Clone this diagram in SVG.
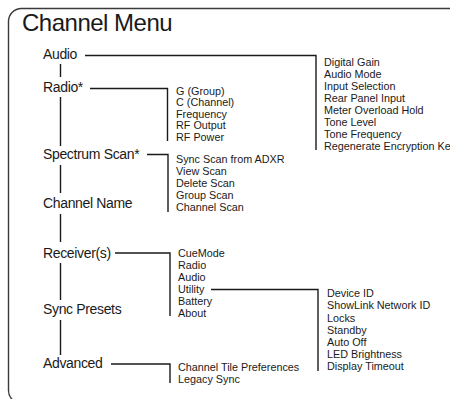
<svg xmlns="http://www.w3.org/2000/svg" width="450" height="399" viewBox="0 0 450 399">
<style>
text{font-family:"Liberation Sans",Arial,sans-serif;fill:#1a1a1a}
.title{font-size:24px;letter-spacing:-0.5px}
.main{font-size:14px;letter-spacing:-0.35px}
.sub{font-size:10.8px}
.frame{fill:none;stroke:#3a3a3a;stroke-width:1.4}
.c{fill:none;stroke:#1a1a1a;stroke-width:1.4}
</style>
<rect class="frame" x="8.5" y="8.5" width="520" height="395" rx="13"/>
<g id="title"><text class="title" x="22" y="31">Channel Menu</text></g>
<g id="connectors">
<path class="c" d="M60.5 64V77M60.5 97V146M60.5 165V193M60.5 214V242M60.5 263V300M60.5 320V355"/>
<path class="c" d="M85 55.5H316V150"/>
<path class="c" d="M90 88.5H167.5V141"/>
<path class="c" d="M147 154.5H168V212"/>
<path class="c" d="M115 253H170V316"/>
<path class="c" d="M211 289.5H318V371"/>
<path class="c" d="M111 364H170V383"/>
</g>
<g id="audio"><text class="main" x="43" y="59">Audio</text></g>
<g id="radio"><text class="main" x="43" y="92">Radio*</text></g>
<g id="spectrum-scan"><text class="main" x="43" y="159">Spectrum Scan*</text></g>
<g id="channel-name"><text class="main" x="43" y="208">Channel Name</text></g>
<g id="receivers"><text class="main" x="43" y="257.5">Receiver(s)</text></g>
<g id="sync-presets"><text class="main" x="43" y="314">Sync Presets</text></g>
<g id="advanced"><text class="main" x="43" y="368">Advanced</text></g>
<g id="audio-menu">
<text class="sub" x="324" y="66">Digital Gain</text>
<text class="sub" x="324" y="78">Audio Mode</text>
<text class="sub" x="324" y="90">Input Selection</text>
<text class="sub" x="324" y="102">Rear Panel Input</text>
<text class="sub" x="324" y="114">Meter Overload Hold</text>
<text class="sub" x="324" y="126">Tone Level</text>
<text class="sub" x="324" y="138">Tone Frequency</text>
<text class="sub" x="324" y="150">Regenerate Encryption Key</text>
</g>
<g id="radio-menu">
<text class="sub" x="176" y="94.5">G (Group)</text>
<text class="sub" x="176" y="106">C (Channel)</text>
<text class="sub" x="176" y="117.5">Frequency</text>
<text class="sub" x="176" y="129">RF Output</text>
<text class="sub" x="176" y="140.5">RF Power</text>
</g>
<g id="spectrum-menu">
<text class="sub" x="176" y="163">Sync Scan from ADXR</text>
<text class="sub" x="176" y="175">View Scan</text>
<text class="sub" x="176" y="187">Delete Scan</text>
<text class="sub" x="176" y="199">Group Scan</text>
<text class="sub" x="176" y="211">Channel Scan</text>
</g>
<g id="receiver-menu">
<text class="sub" x="178" y="257">CueMode</text>
<text class="sub" x="178" y="269">Radio</text>
<text class="sub" x="178" y="281">Audio</text>
<text class="sub" x="178" y="293">Utility</text>
<text class="sub" x="178" y="305">Battery</text>
<text class="sub" x="178" y="317">About</text>
</g>
<g id="utility-menu">
<text class="sub" x="327" y="297">Device ID</text>
<text class="sub" x="327" y="309">ShowLink Network ID</text>
<text class="sub" x="327" y="321.5">Locks</text>
<text class="sub" x="327" y="333.5">Standby</text>
<text class="sub" x="327" y="345.5">Auto Off</text>
<text class="sub" x="327" y="358">LED Brightness</text>
<text class="sub" x="327" y="370">Display Timeout</text>
</g>
<g id="advanced-menu">
<text class="sub" x="178" y="371">Channel Tile Preferences</text>
<text class="sub" x="178" y="383">Legacy Sync</text>
</g>
</svg>
